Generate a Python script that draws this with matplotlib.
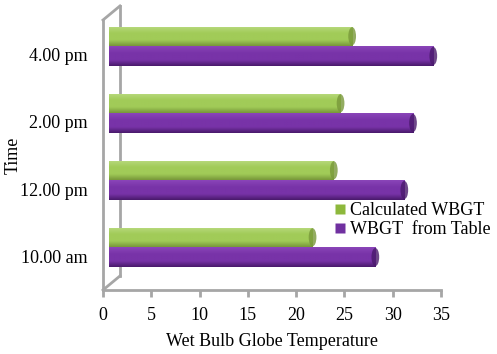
import matplotlib
matplotlib.use("Agg")
import matplotlib.pyplot as plt
import numpy as np
from matplotlib.colors import LinearSegmentedColormap
from matplotlib.lines import Line2D
from matplotlib.patches import Ellipse

# ── data ────────────────────────────────────────────────────────────────────
times = ["10.00 am", "12.00 pm", "2.00 pm", "4.00 pm"]
calculated_wbgt = [20.9, 23.1, 23.8, 25.0]
table_wbgt = [27.4, 30.4, 31.3, 33.4]
series_labels = ["Calculated WBGT", "WBGT  from Table"]

# top, middle, bottom shades of the cylinders
GREEN = ["#b9da7e", "#a1cb58", "#78983a"]
PURPLE = ["#8a45b8", "#7833a8", "#4a1a6c"]

DEPTH_X = 1.76   # fake 3-D depth of the back wall (data units)
DEPTH_Y = 0.21
BAR_START = 0.62
BAR_SHIFT = 0.8
BAR_H = 0.285
FS = 13.0

plt.rcParams["font.family"] = ["Liberation Serif", "DejaVu Serif"]

fig = plt.figure(figsize=(4.97, 3.54), dpi=100)
ax = fig.add_axes([103 / 497, 1 - 290 / 354, 338 / 497, 270 / 354])
ylo, yhi = -0.507, 3.522

y = np.arange(len(times))


def cylinder_bars(ypos, values, colors):
    widths = [v + BAR_SHIFT - BAR_START for v in values]
    bars = ax.barh(ypos, widths, left=BAR_START, height=BAR_H,
                   color=colors[1], edgecolor="none", zorder=3)
    cmap = LinearSegmentedColormap.from_list(
        "cyl", [(0.0, colors[0]), (0.35, colors[1]), (0.7, colors[1]),
                (1.0, colors[2])])
    for b in bars:
        x0, y0 = b.get_x(), b.get_y()
        w, h = b.get_width(), b.get_height()
        im = ax.imshow(np.linspace(0, 1, 50).reshape(-1, 1), cmap=cmap,
                       extent=[x0, x0 + w, y0, y0 + h], aspect="auto",
                       origin="upper", zorder=4, interpolation="bilinear")
        im.set_clip_path(b)
        cap = Ellipse((x0 + w, y0 + h / 2), 0.8, h * 0.95,
                      facecolor=colors[2], edgecolor="none", alpha=0.8,
                      zorder=5)
        ax.add_patch(cap)
    return bars


cylinder_bars(y + 0.28, calculated_wbgt, GREEN)
cylinder_bars(y - 0.015, table_wbgt, PURPLE)
ax.set_xlim(0, 35)
ax.set_ylim(ylo, yhi)

# ── 3-D style frame ───────────────────────────────────────────────────────
frame_kw = dict(color="#a6a6a6", lw=2, clip_on=False, zorder=2)
ax.plot([0, 0], [ylo, yhi], **frame_kw)
ax.plot([DEPTH_X, DEPTH_X], [ylo + DEPTH_Y, yhi + DEPTH_Y], **frame_kw)
ax.plot([0, DEPTH_X], [yhi, yhi + DEPTH_Y], **frame_kw)
ax.plot([0, DEPTH_X], [ylo, ylo + DEPTH_Y], **frame_kw)
ax.plot([0, 35], [ylo, ylo], **frame_kw)

for s in ax.spines.values():
    s.set_visible(False)

ax.set_xticks(np.arange(0, 36, 5))
ax.tick_params(axis="x", length=5, width=2, color="#a6a6a6", pad=7,
               labelsize=FS)
ax.set_yticks(y)
ax.set_yticklabels(times)
ax.tick_params(axis="y", length=0, pad=11, labelsize=FS)

ax.set_xlabel("Wet Bulb Globe Temperature", fontsize=FS, labelpad=7)
ax.set_ylabel("Time", fontsize=FS)
ax.yaxis.set_label_coords(-0.24, 0.5)

handles = [Line2D([], [], marker="s", ls="none", markersize=7,
                  markerfacecolor=c, markeredgecolor="none")
           for c in ("#8db83c", "#7030a0")]
ax.legend(handles, series_labels, loc="upper left", frameon=False,
          bbox_to_anchor=(326 / 497, 1 - 193 / 354),
          bbox_transform=fig.transFigure, fontsize=FS,
          handlelength=0.55, handletextpad=0.3, borderpad=0,
          labelspacing=0.1)

fig.savefig("out.png", dpi=100)
